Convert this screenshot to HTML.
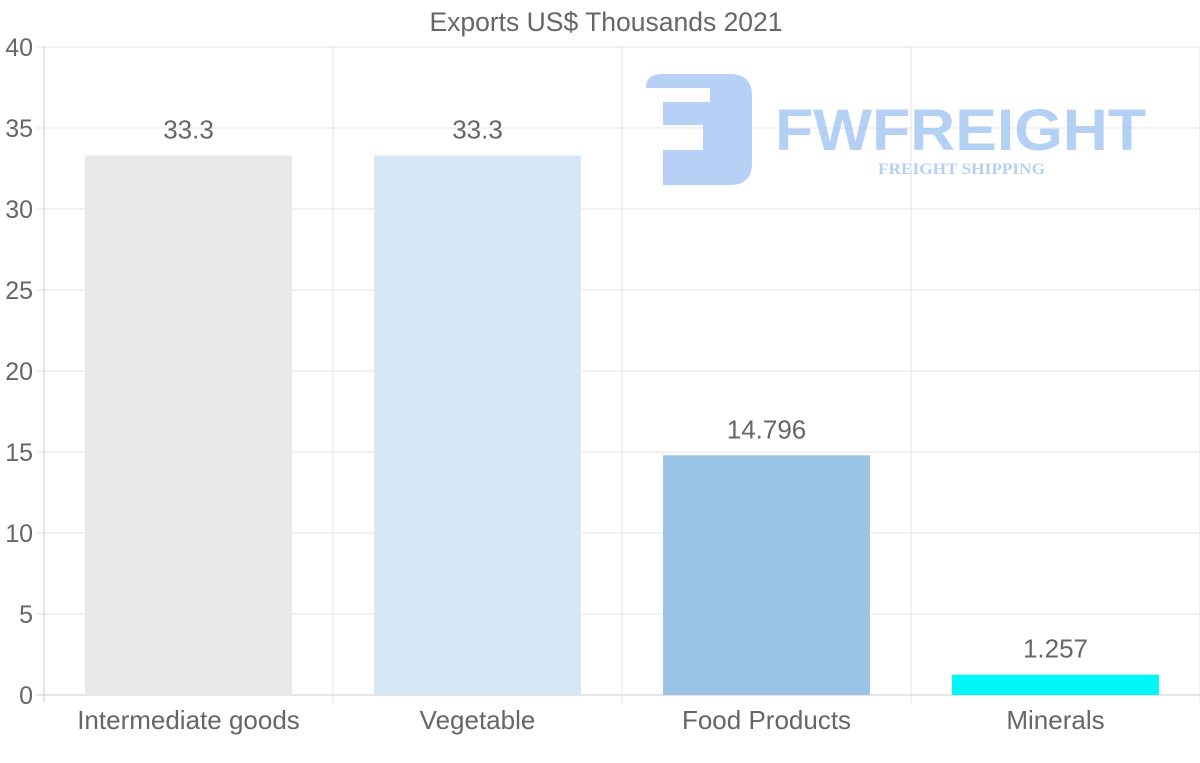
<!DOCTYPE html>
<html><head><meta charset="utf-8"><style>
body{margin:0;background:#fff;}
svg{display:block;font-family:"Liberation Sans",sans-serif;}
</style></head><body>
<svg id="chart" width="1200" height="763" viewBox="0 0 1200 763"></svg>
<script>
const categories=["Intermediate goods","Vegetable","Food Products","Minerals"];
const values=[33.3,33.3,14.796,1.257];
const valueLabels=["33.3","33.3","14.796","1.257"];
const colors=["#e8e8e8","#d6e7f8","#9ac3e6","#00f7f7"];
const yTicks=[0,5,10,15,20,25,30,35,40];
const NS="http://www.w3.org/2000/svg";
const svg=document.getElementById('chart');
const L=44,R=1200,T=47,B=695,yMax=40;
const y=v=>B-(v/yMax)*(B-T);
const band=(R-L)/categories.length;
const x=i=>L+i*band;
function mk(t,a,p){const e=document.createElementNS(NS,t);for(const k in a)e.setAttribute(k,a[k]);(p||svg).appendChild(e);return e;}
const title=mk('text',{x:606,y:31,'text-anchor':'middle','font-size':26.5,fill:'#666'});


title.textContent="Exports US$ Thousands 2021";
yTicks.forEach(t=>{
  const g=mk('line',{x1:36,x2:R,y1:y(t),y2:y(t),stroke:t===0?'#ccc':'#e3e3e3','stroke-width':1});
  
  
  const lb=mk('text',{x:33,y:y(t)+9,'text-anchor':'end','font-size':25,fill:'#666'});
  
  
  lb.textContent=t;
});
for(let i=0;i<=categories.length;i++){
  const g=mk('line',{x1:x(i),x2:x(i),y1:T,y2:703,stroke:i===0?'#ccc':'#e3e3e3','stroke-width':1});
  
  
}
categories.forEach((c,i)=>{
  const bw=band*0.716;
  const bx=x(i)+(band-bw)/2;
  const r=mk('rect',{x:bx,y:y(values[i]),width:bw,height:B-y(values[i]),fill:colors[i]});
  
  
  const v=mk('text',{x:x(i)+band/2,y:y(values[i])-17,'text-anchor':'middle','font-size':26,fill:'#666'});
  
  
  v.textContent=valueLabels[i];
  const xl=mk('text',{x:x(i)+band/2,y:729,'text-anchor':'middle','font-size':26,fill:'#666'});
  
  
  xl.textContent=c;
});
// watermark logo
const lg=mk('g',{opacity:0.85});


mk('path',{d:'M662 74 H730 Q752 74 752 96 V163 Q752 185 730 185 H663 V150 H703 V125 H663 V102 H710 V88 H646 Q646 74 662 74 Z',fill:'#a9c8f4'},lg);
const t1=mk('text',{x:775,y:150,'font-size':58,'font-weight':'bold',fill:'#a9c8f4',textLength:371,lengthAdjust:'spacingAndGlyphs'},lg);
t1.textContent="FWFREIGHT";
const t2=mk('text',{x:878,y:174,'font-size':16,'font-weight':'bold','font-family':'Liberation Serif,serif',fill:'#a9c8f4',textLength:167,lengthAdjust:'spacingAndGlyphs'},lg);
t2.textContent="FREIGHT SHIPPING";
</script>
</body></html>
